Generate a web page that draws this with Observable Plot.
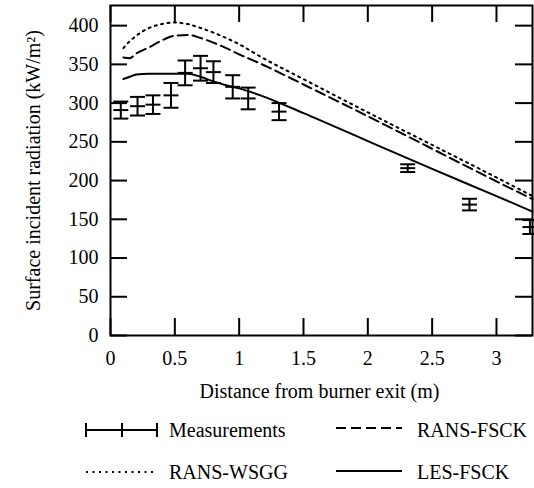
<!DOCTYPE html>
<html><head><meta charset="utf-8">
<script src="https://cdn.jsdelivr.net/npm/d3@7"></script>
<script src="https://cdn.jsdelivr.net/npm/@observablehq/plot@0.6"></script>
<style>
body{margin:0;background:#fff;}
#chart{width:534px;height:488px;position:relative;font-family:"Liberation Serif","Times New Roman",serif;}
#chart svg{display:block;}
</style>
</head><body><div id="chart"></div>
<script>
// Measurements (x in m, y in kW/m2, half error bar)
const measX   = [0.08, 0.21, 0.33, 0.47, 0.58, 0.70, 0.80, 0.95, 1.07, 1.31, 2.31, 2.79, 3.26];
const measY   = [291, 296, 298, 310, 339, 345, 340, 321, 306, 289, 216, 169, 140];
const measErr = [11, 12, 12, 16, 16, 16, 14, 15, 14, 11, 5, 7.5, 9];

// Model predictions
const modelX   = [0.1, 0.15, 0.2, 0.3, 0.4, 0.5, 0.6, 0.7, 0.8, 0.9, 1.0, 1.165, 1.5, 2.0, 2.5, 3.0, 3.28];
const ransWsgg = [371, 380, 387, 397, 402, 404, 402, 397, 391, 384, 376, 360, 331, 288, 246, 204, 180];
const ransFsck = [359, 358, 364, 372, 381, 387, 388, 384, 378, 371, 363, 351, 324, 283, 241, 199, 176];
const lesFsck  = [331, 334, 337, 338, 338, 338, 338, 334, 328, 323, 319, 310, 287, 251, 215, 180, 160];

const xTicks = [0, 0.5, 1, 1.5, 2, 2.5, 3];
const yTicks = [0, 50, 100, 150, 200, 250, 300, 350, 400];
const xLabel = "Distance from burner exit (m)";
const yLabel = "Surface incident radiation (kW/m\u00B2)";
const legendLabels = ["Measurements", "RANS-FSCK", "RANS-WSGG", "LES-FSCK"];

const meas = measX.map((x, i) => ({x, y: measY[i], lo: measY[i] - measErr[i], hi: measY[i] + measErr[i]}));
const caps = meas.flatMap(d => [{x: d.x, y: d.lo}, {x: d.x, y: d.y}, {x: d.x, y: d.hi}]);
const model = (arr) => modelX.map((x, i) => ({x, y: arr[i]}));

const hline = {draw(ctx, size) { const r = Math.sqrt(size / Math.PI); ctx.moveTo(-r, 0); ctx.lineTo(r, 0); }};
const fmt = d => String(d);

const W = 534, H = 410, ML = 110, MR = 2, MT = 5, MB = 75, TS = 17;
const innerW = W - ML - MR, innerH = H - MT - MB;

const plot = Plot.plot({
  width: W,
  height: H,
  marginLeft: ML,
  marginRight: MR,
  marginTop: MT,
  marginBottom: MB,
  style: {fontFamily: "Liberation Serif, Times New Roman, serif", fontSize: "20px", background: "white", color: "black"},
  x: {domain: [0, 3.28]},
  y: {domain: [0, 426]},
  marks: [
    Plot.line(model(ransWsgg), {x: "x", y: "y", stroke: "black", strokeWidth: 2, strokeDasharray: "2,4.5", curve: "monotone-x"}),
    Plot.line(model(ransFsck), {x: "x", y: "y", stroke: "black", strokeWidth: 2, strokeDasharray: "10,5", curve: "monotone-x"}),
    Plot.line(model(lesFsck), {x: "x", y: "y", stroke: "black", strokeWidth: 2, curve: "monotone-x"}),
    Plot.ruleX(meas, {x: "x", y1: "lo", y2: "hi", stroke: "black", strokeWidth: 2}),
    Plot.dot(caps, {x: "x", y: "y", symbol: hline, r: 7.5, stroke: "black", strokeWidth: 2, fill: "none"}),
    // inward ticks on all four sides
    Plot.tickX(xTicks, {x: d => d, insetTop: innerH - TS, stroke: "black", strokeWidth: 2}),
    Plot.tickX(xTicks, {x: d => d, insetBottom: innerH - TS, stroke: "black", strokeWidth: 2}),
    Plot.tickY(yTicks, {y: d => d, insetRight: innerW - TS, stroke: "black", strokeWidth: 2}),
    Plot.tickY(yTicks, {y: d => d, insetLeft: innerW - TS, stroke: "black", strokeWidth: 2}),
    Plot.axisX({anchor: "bottom", ticks: xTicks, tickSize: 0, tickPadding: 15, tickFormat: fmt, label: null}),
    Plot.axisY({anchor: "left", ticks: yTicks, tickSize: 0, tickPadding: 12, tickFormat: fmt, label: null}),
    Plot.frame({stroke: "black", strokeWidth: 2}),
    Plot.text([xLabel], {text: d => d, frameAnchor: "bottom", dy: 56, dx: -2, lineAnchor: "middle", textAnchor: "middle", fill: "black"}),
    Plot.text([yLabel], {text: d => d, frameAnchor: "left", dx: -77, rotate: -90, lineAnchor: "middle", textAnchor: "middle", fill: "black"})
  ]
});
document.getElementById("chart").appendChild(plot);

// Legend below the plot
const lg = d3.select("#chart").append("svg").attr("width", 534).attr("height", 78)
  .style("font-family", "Liberation Serif, Times New Roman, serif").style("font-size", "20px");
const r1 = 20, r2 = 62;
lg.append("line").attr("x1", 86).attr("x2", 157).attr("y1", r1).attr("y2", r1).attr("stroke", "black").attr("stroke-width", 2);
[86, 122, 157].forEach(x => lg.append("line").attr("x1", x).attr("x2", x).attr("y1", r1 - 7).attr("y2", r1 + 7).attr("stroke", "black").attr("stroke-width", 2));
lg.append("text").attr("x", 169).attr("y", r1 + 7).text(legendLabels[0]);
lg.append("line").attr("x1", 336).attr("x2", 402).attr("y1", r1 - 2).attr("y2", r1 - 2).attr("stroke", "black").attr("stroke-width", 2).attr("stroke-dasharray", "10,5");
lg.append("text").attr("x", 417).attr("y", r1 + 7).text(legendLabels[1]);
lg.append("line").attr("x1", 86).attr("x2", 157).attr("y1", r2).attr("y2", r2).attr("stroke", "black").attr("stroke-width", 2).attr("stroke-dasharray", "2,4.5");
lg.append("text").attr("x", 169).attr("y", r2 + 7).text(legendLabels[2]);
lg.append("line").attr("x1", 336).attr("x2", 402).attr("y1", r2 - 1).attr("y2", r2 - 1).attr("stroke", "black").attr("stroke-width", 2);
lg.append("text").attr("x", 417).attr("y", r2 + 7).text(legendLabels[3]);
</script>
</body></html>
